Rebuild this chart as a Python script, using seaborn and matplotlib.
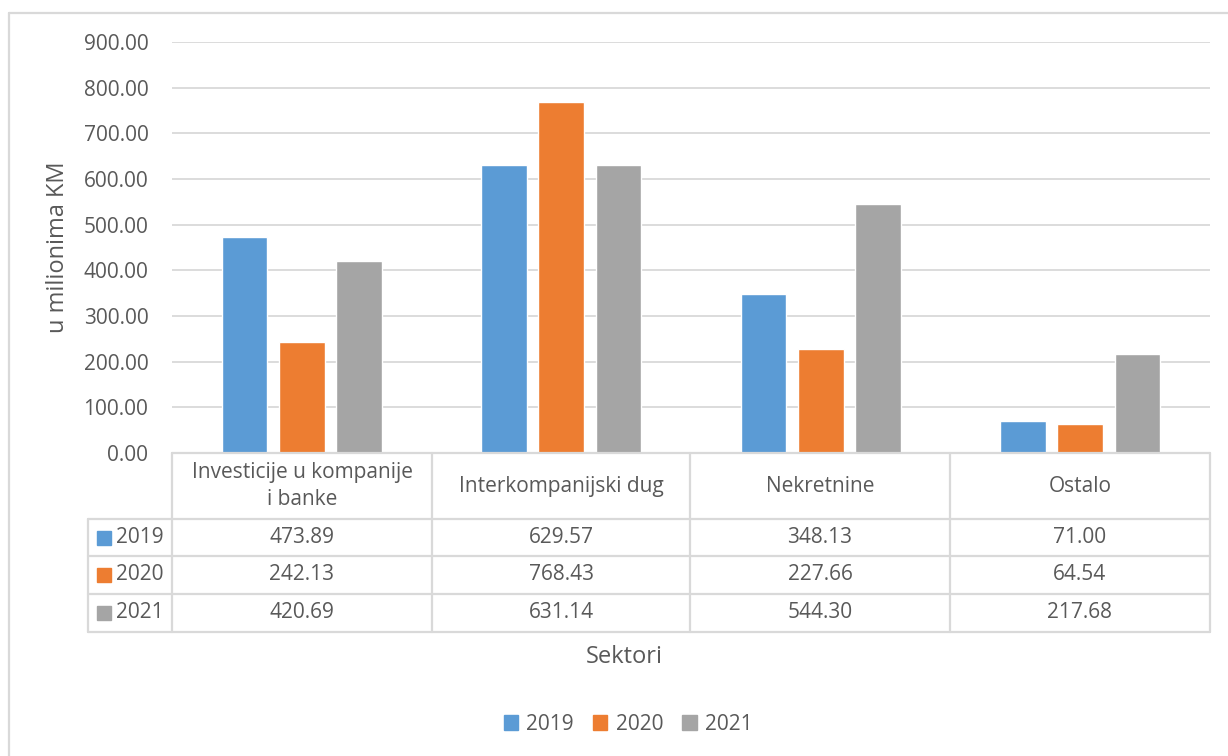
import matplotlib
matplotlib.use("Agg")
import matplotlib.pyplot as plt
import seaborn as sns
import pandas as pd
from matplotlib.lines import Line2D
from matplotlib.patches import Rectangle

# Sector names and yearly values (millions KM)
sectors = ["Investicije u kompanije\ni banke", "Interkompanijski dug", "Nekretnine", "Ostalo"]
years = ["2019", "2020", "2021"]
values_2019 = [473.89, 629.57, 348.13, 71.00]
values_2020 = [242.13, 768.43, 227.66, 64.54]
values_2021 = [420.69, 631.14, 544.30, 217.68]
yticks = [0, 100, 200, 300, 400, 500, 600, 700, 800, 900]

colors = ["#5B9BD5", "#ED7D31", "#A5A5A5"]
text_color = "#595959"
line_color = "#D9D9D9"
fs = 15

series = {"2019": values_2019, "2020": values_2020, "2021": values_2021}
df = pd.DataFrame(
    [(s, y, v) for y in years for s, v in zip(sectors, series[y])],
    columns=["Sektor", "Godina", "Vrijednost"],
)

sns.set_theme(style="white")
plt.rcParams["font.family"] = ["Open Sans", "DejaVu Sans"]

W, H = 1228, 756
fig = plt.figure(figsize=(W / 100, H / 100), dpi=100)

def fx(px):
    return px / W

def fy(py):
    return 1 - py / H

# plot area
ax_left, ax_right, ax_top, ax_bottom = 172, 1210, 42, 453
ax = fig.add_axes([fx(ax_left), fy(ax_bottom), fx(ax_right - ax_left), (ax_bottom - ax_top) / H])

sns.barplot(data=df, x="Sektor", y="Vrijednost", hue="Godina", hue_order=years,
            order=sectors, palette=colors, width=0.66, gap=0.2, saturation=1,
            ax=ax, legend=False)

ax.set_ylim(0, 900)
ax.set_xlim(-0.5, len(sectors) - 0.5)
ax.set_yticks(yticks)
ax.set_yticklabels([f"{t:.2f}" for t in yticks], fontsize=fs, color=text_color)
ax.tick_params(axis="y", length=0, pad=17)
ax.set_xticks([])
ax.set_xlabel("")
ax.set_ylabel("")
ax.yaxis.grid(True, color=line_color, linewidth=1.3)
ax.set_axisbelow(True)
for sp in ax.spines.values():
    sp.set_visible(False)

fig.text(fx(58), fy(247), "u milionima KM", rotation=90, ha="center", va="center",
         fontsize=17, color=text_color)

# data table below the plot area
col_edges = [172, 432, 690, 950, 1210]
row_edges = [453, 519, 556, 594, 632]
label_left = 88

def hline(x0, x1, y):
    fig.add_artist(Line2D([fx(x0), fx(x1)], [fy(y), fy(y)], color=line_color, linewidth=1.6))

def vline(x, y0, y1):
    fig.add_artist(Line2D([fx(x), fx(x)], [fy(y0), fy(y1)], color=line_color, linewidth=1.6))

hline(col_edges[0], col_edges[-1], row_edges[0])
for y in row_edges[1:]:
    hline(label_left, col_edges[-1], y)
for x in col_edges:
    vline(x, row_edges[0], row_edges[-1])
vline(label_left, row_edges[1], row_edges[-1])

for i, s in enumerate(sectors):
    cx = (col_edges[i] + col_edges[i + 1]) / 2
    cy = (row_edges[0] + row_edges[1]) / 2
    fig.text(fx(cx), fy(cy), s, ha="center", va="center", fontsize=fs,
             color=text_color, linespacing=1.4)

for r, y in enumerate(years):
    cy = (row_edges[r + 1] + row_edges[r + 2]) / 2
    fig.add_artist(Rectangle((fx(97), fy(cy + 7)), fx(14), 14 / H, color=colors[r],
                             transform=fig.transFigure))
    fig.text(fx(116), fy(cy), y, ha="left", va="center", fontsize=fs, color=text_color)
    for i, v in enumerate(series[y]):
        cx = (col_edges[i] + col_edges[i + 1]) / 2
        fig.text(fx(cx), fy(cy), f"{v:.2f}", ha="center", va="center", fontsize=fs,
                 color=text_color)

fig.text(fx(624), fy(657), "Sektori", ha="center", va="center", fontsize=17, color=text_color)

# legend
handles = [Rectangle((0, 0), 1, 1, color=c) for c in colors]
fig.legend(handles, years, loc="center", bbox_to_anchor=(fx(628), fy(724)), ncol=3,
           frameon=False, fontsize=fs, labelcolor=text_color, handlelength=0.7,
           handleheight=0.7, handletextpad=0.4, columnspacing=0.9)

# chart frame
fig.add_artist(Line2D([fx(8.5), fx(8.5)], [0, fy(12.5)], color=line_color, linewidth=1.6))
fig.add_artist(Line2D([fx(8.5), 1], [fy(12.5), fy(12.5)], color=line_color, linewidth=1.6))

fig.savefig("out.png", dpi=100, facecolor="white")
